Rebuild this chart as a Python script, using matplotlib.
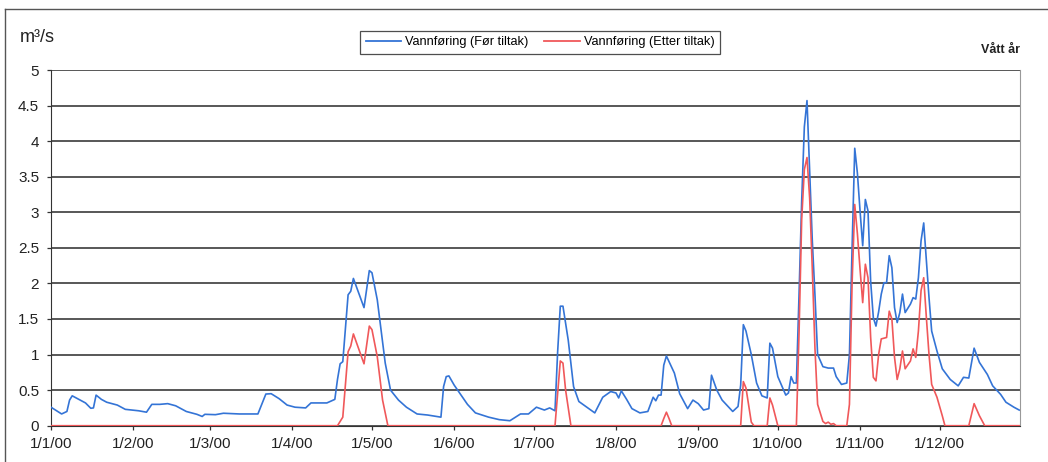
import matplotlib
matplotlib.use("Agg")
import matplotlib.pyplot as plt
import matplotlib.dates as mdates
from matplotlib.ticker import FuncFormatter
from matplotlib.lines import Line2D
import pandas as pd

plt.rcParams['font.family'] = ['Liberation Sans', 'DejaVu Sans']

# Day offsets from 1 Jan 2000 and discharge values (m3/s)
before_days = [0, 4, 6, 7, 8, 11, 13, 15, 16, 17, 19, 21, 25, 28, 33, 36, 38, 41, 44, 47,
               51, 55, 57, 58, 62, 65, 71, 78, 81, 83, 86, 89, 92, 96, 98, 104, 107, 108,
               109, 110, 112, 113, 114, 118, 120, 121, 123, 126, 128, 131, 134, 138, 142,
               147, 148, 149, 150, 152, 157, 160, 165, 169, 173, 177, 180, 183, 186, 188,
               190, 191, 192, 193, 195, 197, 199, 202, 205, 208, 211, 213, 214, 215, 217,
               219, 222, 225, 227, 228, 229, 230, 231, 232, 235, 237, 240, 242, 244, 246,
               248, 249, 251, 253, 257, 259, 260, 261, 262, 264, 266, 268, 270, 271, 272,
               274, 277, 278, 279, 280, 281, 282, 283, 284, 285, 286, 287, 288, 289, 291,
               293, 295, 296, 298, 300, 301, 302, 303, 304, 305, 306, 307, 308, 309, 310,
               311, 312, 313, 314, 315, 316, 317, 318, 319, 320, 321, 322, 323, 324, 325,
               326, 327, 328, 329, 330, 331, 332, 334, 336, 339, 342, 344, 346, 348, 350,
               353, 355, 358, 360, 363, 365]
before_vals = [0.26, 0.165, 0.20, 0.36, 0.42, 0.36, 0.32, 0.245, 0.25, 0.43, 0.37, 0.33, 0.29,
               0.23, 0.21, 0.19, 0.30, 0.30, 0.31, 0.28, 0.20, 0.16, 0.13, 0.16, 0.155, 0.175,
               0.165, 0.165, 0.445, 0.45, 0.38, 0.29, 0.26, 0.25, 0.32, 0.32, 0.37, 0.65,
               0.87, 0.90, 1.84, 1.89, 2.07, 1.66, 2.18, 2.15, 1.77, 0.88, 0.50, 0.36, 0.26,
               0.165, 0.15, 0.12, 0.55, 0.69, 0.70, 0.57, 0.30, 0.18, 0.12, 0.085, 0.07,
               0.165, 0.165, 0.26, 0.22, 0.25, 0.21, 1.04, 1.68, 1.68, 1.20, 0.55, 0.34,
               0.26, 0.18, 0.40, 0.48, 0.46, 0.39, 0.49, 0.37, 0.24, 0.18, 0.20, 0.40, 0.35,
               0.43, 0.43, 0.85, 0.98, 0.74, 0.45, 0.24, 0.36, 0.31, 0.22, 0.24, 0.71, 0.50,
               0.36, 0.20, 0.27, 0.57, 1.42, 1.33, 1.00, 0.60, 0.42, 0.39, 1.16, 1.09, 0.69,
               0.43, 0.46, 0.69, 0.60, 0.60, 1.84, 3.16, 4.20, 4.57, 3.60, 2.60, 1.84, 1.00,
               0.83, 0.81, 0.81, 0.69, 0.58, 0.60, 1.00, 2.50, 3.90, 3.55, 3.02, 2.53, 3.18,
               3.02, 2.03, 1.52, 1.40, 1.60, 1.85, 2.01, 2.01, 2.39, 2.22, 1.66, 1.45, 1.59,
               1.85, 1.59, 1.65, 1.71, 1.80, 1.78, 2.08, 2.60, 2.85, 2.32, 1.80, 1.33, 1.05,
               0.80, 0.65, 0.56, 0.68, 0.67, 1.09, 0.89, 0.72, 0.56, 0.44, 0.33, 0.26, 0.22]

after_days = [0, 108, 109, 110, 112, 113, 114, 118, 120, 121, 123, 125, 127,
              190, 192, 193, 194, 196,
              230, 231, 232, 233, 234,
              260, 261, 262, 264, 265,
              270, 271, 272, 274,
              281, 282, 283, 284, 285, 286, 287, 288, 289, 291, 292, 293, 294, 295, 296,
              300, 301, 302, 303, 304, 305, 306, 307, 308, 309, 310, 311, 312, 313, 315,
              316, 317, 318, 319, 320, 321, 322, 324, 325, 326, 327, 328, 329, 330, 331,
              332, 334, 336, 337, 346, 348, 350, 352, 365]
after_vals = [0, 0, 0.06, 0.12, 1.04, 1.12, 1.29, 0.87, 1.40, 1.35, 0.97, 0.36, 0,
              0, 0.91, 0.88, 0.50, 0,
              0, 0.10, 0.19, 0.10, 0,
              0, 0.62, 0.53, 0.05, 0,
              0, 0.39, 0.29, 0,
              0, 1.30, 2.90, 3.60, 3.77, 3.20, 2.20, 1.09, 0.30, 0.06, 0.03, 0.05, 0.02,
              0.03, 0,
              0, 0.30, 2.00, 3.11, 2.70, 2.20, 1.73, 2.27, 2.08, 1.24, 0.68, 0.63, 1.00,
              1.22, 1.24, 1.61, 1.50, 0.96, 0.65, 0.80, 1.05, 0.80, 0.91, 1.08, 0.96, 1.33,
              1.90, 2.08, 1.52, 1.00, 0.58, 0.40, 0.14, 0, 0, 0.31, 0.14, 0, 0]

series_labels = ["Vannføring (Før tiltak)", "Vannføring (Etter tiltak)"]
y_ticks = [0, 0.5, 1, 1.5, 2, 2.5, 3, 3.5, 4, 4.5, 5]
unit_label = "m³/s"
year_label = "Vått år"

start = pd.Timestamp("2000-01-01")
before_dates = start + pd.to_timedelta(before_days, unit="D")
after_dates = start + pd.to_timedelta(after_days, unit="D")

W, H = 1048, 462
fig = plt.figure(figsize=(W / 100, H / 100), dpi=100)
fig.patch.set_facecolor("white")

# outer chart frame
fig.add_artist(Line2D([5 / W, 5 / W], [0, 1 - 9 / H], transform=fig.transFigure,
                      color="#555555", lw=1.0))
fig.add_artist(Line2D([5 / W, 1], [1 - 9 / H, 1 - 9 / H], transform=fig.transFigure,
                      color="#555555", lw=1.0))

ax = fig.add_axes([51 / W, 1 - 425.7 / H, (1020 - 51) / W, (425.7 - 70) / H])

blue = "#3474d6"
red = "#f0585a"
ax.plot(before_dates, before_vals, color=blue, lw=1.2, zorder=3)
ax.plot(after_dates, after_vals, color=red, lw=1.2, zorder=4)

ax.set_ylim(0, 5)
ax.set_xlim(start, start + pd.Timedelta(days=365.3))
ax.set_yticks(y_ticks)
ax.yaxis.set_major_formatter(FuncFormatter(lambda v, p: f"{v:g}"))
ax.xaxis.set_major_locator(mdates.MonthLocator())


def fmt_date(x, pos):
    d = mdates.num2date(x)
    return f"{d.day}/{d.month}/{d.strftime('%y')}"


ax.xaxis.set_major_formatter(FuncFormatter(fmt_date))
ax.grid(axis="y", color="#2a2a2a", lw=1.1, zorder=1)
ax.set_axisbelow(True)

ax.spines["top"].set_visible(False)
ax.spines["right"].set_color("#999999")
ax.spines["left"].set_color("#333333")
ax.spines["bottom"].set_color("#333333")
ax.tick_params(axis="both", direction="out", length=3, width=0.9, color="#333333",
               labelsize=11, labelcolor="#222222")
ax.tick_params(axis="y", pad=5.5)
ax.tick_params(axis="x", pad=5)

# legend
handles = [Line2D([], [], color=blue, lw=1.3), Line2D([], [], color=red, lw=1.3)]
leg = fig.legend(handles, series_labels, loc="center", bbox_to_anchor=(540 / W, 1 - 42.5 / H),
                 ncol=2, frameon=True, fancybox=False, fontsize=9.2, handlelength=2.8,
                 handletextpad=0.3, columnspacing=1.2, borderpad=0.45)
leg.get_frame().set_edgecolor("#222222")
leg.get_frame().set_linewidth(0.9)

fig.text(20 / W, 1 - 37 / H, unit_label, fontsize=13, va="center", ha="left", color="#222222")
fig.text(1020 / W, 1 - 50 / H, year_label, fontsize=9, fontweight="bold", va="center",
         ha="right", color="#222222")

fig.savefig("out.png", dpi=100, facecolor="white")
